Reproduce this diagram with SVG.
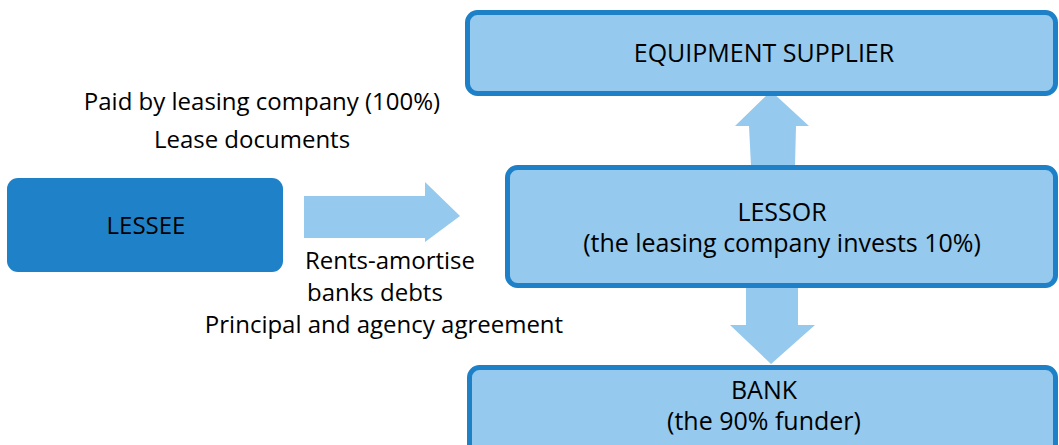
<svg xmlns="http://www.w3.org/2000/svg" width="1059" height="445" viewBox="0 0 1059 445">
<style>
.box{fill:#95C9EE;stroke:#1E81C8;stroke-width:5}
.dark{fill:#1F82C8}
.arrow{fill:#95C9EE}
text{font-family:"Open Sans","Noto Sans","Liberation Sans",sans-serif;font-size:24px;fill:#000}
.b{font-size:25px}
.c{text-anchor:middle}
</style>
<rect width="1059" height="445" fill="#fff"/>
<g id="connectors">
<polygon class="arrow" points="304,196 425,196 425,182 460,216 425,242 425,238 304,238"/>
<polygon class="arrow" points="771,91 809,126 796,126 795,166 751,166 749,126 735,126"/>
<polygon class="arrow" points="746,288 798,288 798,325 815,325 771,364 730,325 746,325"/>
</g>
<g id="supplier">
<rect class="box" x="467.5" y="12.5" width="588" height="81" rx="10"/>
<text class="c b" x="764" y="62">EQUIPMENT SUPPLIER</text>
</g>
<g id="lessee">
<rect class="dark" x="7" y="178" width="276" height="94" rx="11"/>
<text class="c" x="146" y="234">LESSEE</text>
</g>
<g id="lessor">
<rect class="box" x="507.5" y="167.5" width="548" height="118" rx="10"/>
<text class="c b" x="782" y="221">LESSOR</text>
<text class="c b" x="782" y="252">(the leasing company invests 10%)</text>
</g>
<g id="bank">
<rect class="box" x="469.5" y="367.5" width="586" height="95" rx="10"/>
<text class="c b" x="764" y="399">BANK</text>
<text class="c b" x="764" y="430">(the 90% funder)</text>
</g>
<g id="labels">
<text class="c" x="262" y="110">Paid by leasing company (100%)</text>
<text class="c" x="252" y="148">Lease documents</text>
<text class="c" x="390" y="269">Rents-amortise</text>
<text x="307" y="301">banks debts</text>
<text class="c" x="384" y="333">Principal and agency agreement</text>
</g>
</svg>
